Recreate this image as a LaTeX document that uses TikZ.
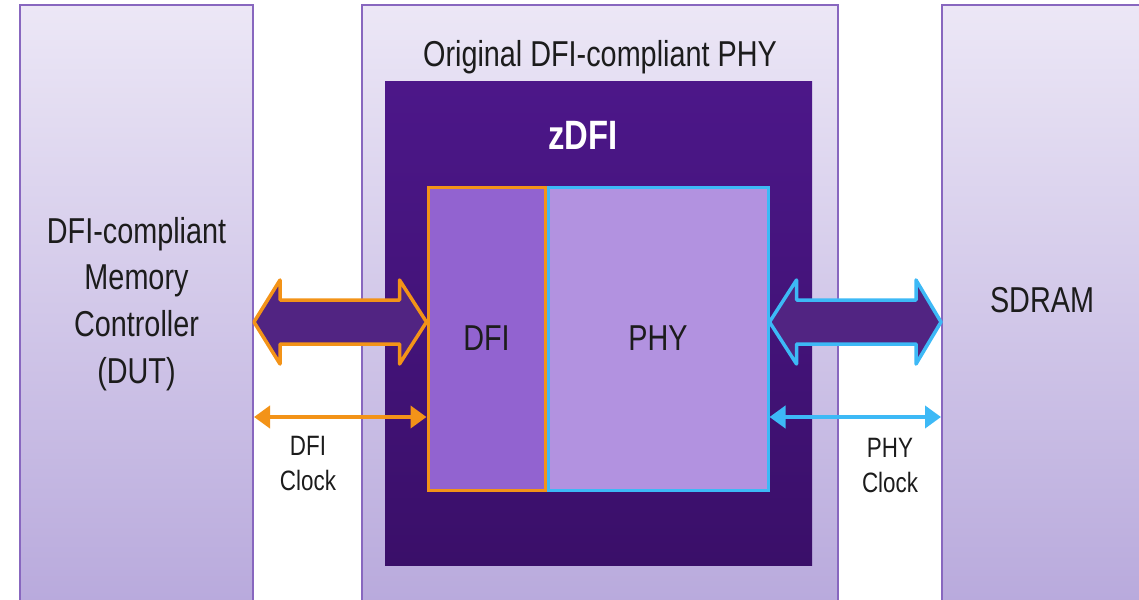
\documentclass[tikz,border=0pt]{standalone}
\usepackage{fontspec}
\setmainfont{Liberation Sans}[FakeStretch=0.8]
\usetikzlibrary{arrows.meta,calc}
\definecolor{boxtop}{HTML}{ECE7F6}
\definecolor{boxbot}{HTML}{B8A9DC}
\definecolor{boxline}{HTML}{8867BF}
\definecolor{zdfitop}{HTML}{4C1789}
\definecolor{zdfibot}{HTML}{3A0F69}
\definecolor{dfifill}{HTML}{9263D0}
\definecolor{phyfill}{HTML}{B292E0}
\definecolor{dfiorange}{HTML}{F39318}
\definecolor{phyblue}{HTML}{3DB9F6}
\definecolor{busfill}{HTML}{512482}
\definecolor{txt}{HTML}{1C1C1C}
\newcommand{\bigtxt}{\fontsize{36}{46.7}\selectfont}
\newcommand{\smalltxt}{\fontsize{28}{35}\selectfont}
\tikzset{
  outerbox/.style={draw=boxline,line width=2pt,top color=boxtop,bottom color=boxbot,inner sep=0pt},
  zdfibox/.style={top color=zdfitop,bottom color=zdfibot,inner sep=0pt},
  innerbox/.style={line width=3pt,inner sep=0pt,text=txt,font=\bigtxt},
  bigtext/.style={text=txt,font=\bigtxt,align=center,inner sep=0pt},
  clktext/.style={text=txt,font=\smalltxt,align=center,inner sep=0pt},
  bus/.style={fill=busfill,line width=3.5pt,line join=round},
  clk/.style={line width=4pt,{Triangle[length=16pt,width=22pt]}-{Triangle[length=16pt,width=22pt]}}
}
\begin{document}
\begin{tikzpicture}[x=1pt,y=-1pt]
\clip (0,0) rectangle (1139,599);
% outer blocks
\node[outerbox,minimum width=233,minimum height=605] (ctrl) at (136.5,307.5) {};
\node[outerbox,minimum width=476,minimum height=605] (orig) at (600,307.5) {};
\node[outerbox,minimum width=220,minimum height=605] (sdram) at (1052,307.5) {};
\node[bigtext] (ctrltxt) at (136.5,304) {DFI-compliant\\Memory\\Controller\\(DUT)};
\node[bigtext] (origtxt) at (600,57) {Original DFI-compliant PHY};
\node[bigtext] (sdramtxt) at (1042,300) {SDRAM};
% zDFI wrapper
\node[zdfibox,minimum width=427,minimum height=483] (zdfi) at (598.5,323.5) {};
\node[text=white,font=\fontsize{41}{48}\selectfont\bfseries,inner sep=0pt] (zdfitxt) at (583,135) {zDFI};
\node[innerbox,draw=dfiorange,fill=dfifill,minimum width=117,minimum height=303] (dfi) at (486.5,338.5) {DFI};
\node[innerbox,draw=phyblue,fill=phyfill,minimum width=220,minimum height=303] (phy) at (658,338.5) {PHY};
% buses
\coordinate (busrow) at (0,322);
\coordinate (clkrow) at (0,417);
\draw[bus,draw=dfiorange] (ctrl.east |- busrow) -- ++(26,-42) -- ++(0,20)
  -- ($(dfi.west |- busrow)+(-27,-22)$) -- ++(0,-20) -- (dfi.west |- busrow)
  -- ++(-27,42) -- ++(0,-20) -- ($(ctrl.east |- busrow)+(26,22)$) -- ++(0,20) -- cycle;
\draw[bus,draw=phyblue] (phy.east |- busrow) -- ++(27,-42) -- ++(0,20)
  -- ($(sdram.west |- busrow)+(-25,-22)$) -- ++(0,-20) -- (sdram.west |- busrow)
  -- ++(-25,42) -- ++(0,-20) -- ($(phy.east |- busrow)+(27,22)$) -- ++(0,20) -- cycle;
% clocks
\draw[clk,dfiorange] (ctrl.east |- clkrow) -- (dfi.west |- clkrow);
\draw[clk,phyblue] (phy.east |- clkrow) -- (sdram.west |- clkrow);
\node[clktext] (dficlk) at (308,463) {DFI\\Clock};
\node[clktext] (phyclk) at (890,465) {PHY\\Clock};
\end{tikzpicture}
\end{document}
